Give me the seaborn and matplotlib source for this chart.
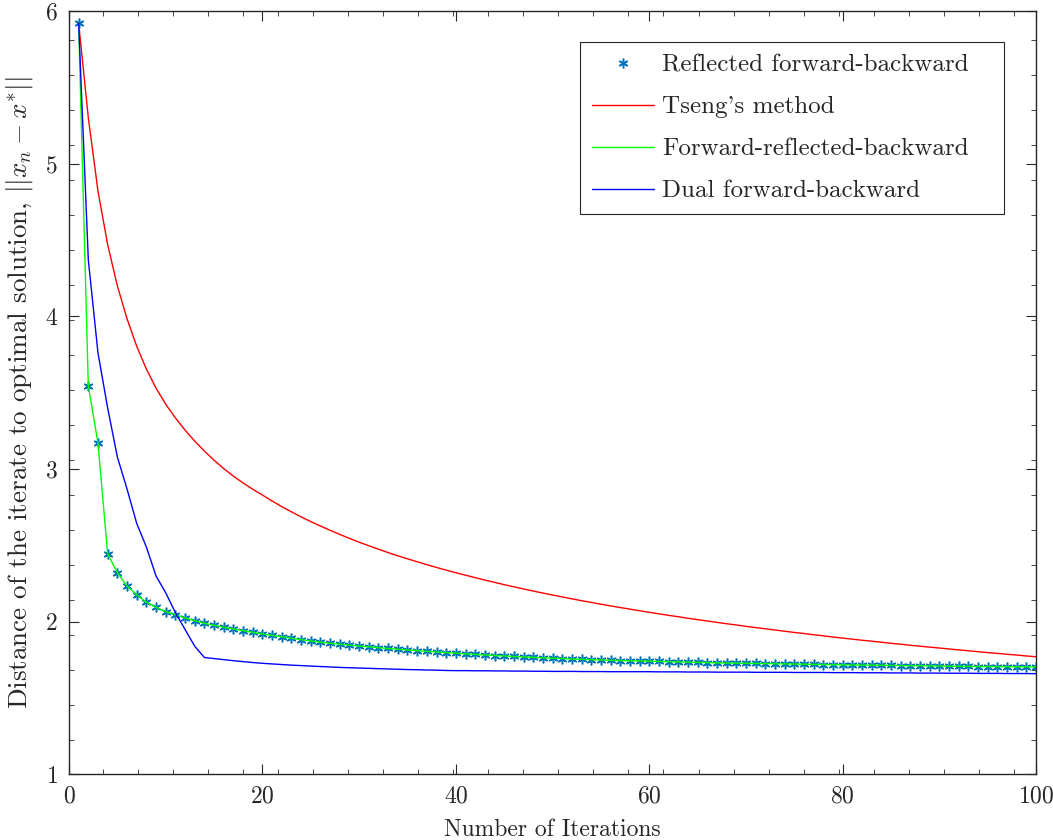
import numpy as np
import pandas as pd
import matplotlib
matplotlib.use("Agg")
import matplotlib.pyplot as plt
from matplotlib.ticker import MultipleLocator
import seaborn as sns

iterations = list(range(1, 101))

reflected_fb = [
    5.92, 3.546, 3.169, 2.444, 2.322, 2.234, 2.177, 2.128, 2.095, 2.066,
    2.047, 2.025, 2.007, 1.990, 1.977, 1.964, 1.953, 1.942, 1.931, 1.920,
    1.911, 1.902, 1.892, 1.883, 1.874, 1.866, 1.859, 1.853, 1.847, 1.841,
    1.836, 1.830, 1.825, 1.820, 1.815, 1.811, 1.806, 1.802, 1.798, 1.794,
    1.790, 1.786, 1.783, 1.779, 1.776, 1.773, 1.770, 1.767, 1.764, 1.761,
    1.759, 1.756, 1.754, 1.752, 1.750, 1.748, 1.746, 1.744, 1.743, 1.742,
    1.740, 1.739, 1.737, 1.736, 1.734, 1.733, 1.731, 1.730, 1.729, 1.728,
    1.727, 1.726, 1.725, 1.724, 1.723, 1.722, 1.721, 1.720, 1.719, 1.718,
    1.717, 1.716, 1.716, 1.715, 1.714, 1.713, 1.712, 1.712, 1.711, 1.710,
    1.709, 1.709, 1.708, 1.707, 1.707, 1.706, 1.706, 1.705, 1.705, 1.704,
]

forward_reflected_backward = list(reflected_fb)

tseng = [
    5.92, 5.30, 4.82, 4.47, 4.20, 3.985, 3.805, 3.655, 3.53, 3.425,
    3.335, 3.255, 3.183, 3.118, 3.058, 3.003, 2.954, 2.909, 2.868, 2.83,
    2.791, 2.754, 2.720, 2.687, 2.656, 2.627, 2.599, 2.572, 2.546, 2.521,
    2.498, 2.475, 2.453, 2.432, 2.412, 2.393, 2.374, 2.356, 2.338, 2.321,
    2.305, 2.289, 2.273, 2.258, 2.243, 2.229, 2.215, 2.201, 2.188, 2.175,
    2.163, 2.150, 2.138, 2.127, 2.115, 2.104, 2.093, 2.083, 2.072, 2.062,
    2.052, 2.042, 2.033, 2.023, 2.014, 2.005, 1.996, 1.987, 1.979, 1.970,
    1.962, 1.954, 1.946, 1.938, 1.930, 1.923, 1.915, 1.908, 1.900, 1.893,
    1.886, 1.879, 1.873, 1.866, 1.859, 1.853, 1.846, 1.840, 1.834, 1.828,
    1.822, 1.816, 1.810, 1.804, 1.798, 1.793, 1.787, 1.782, 1.776, 1.771,
]

dual_fb = [
    5.92, 4.37, 3.76, 3.40, 3.08, 2.87, 2.645, 2.49, 2.30, 2.19,
    2.06, 1.95, 1.84, 1.766, 1.759, 1.752, 1.745, 1.739, 1.733, 1.728,
    1.724, 1.720, 1.716, 1.713, 1.710, 1.707, 1.704, 1.701, 1.699, 1.697,
    1.695, 1.693, 1.691, 1.689, 1.687, 1.686, 1.684, 1.683, 1.681, 1.680,
    1.680, 1.679, 1.679, 1.678, 1.678, 1.677, 1.677, 1.676, 1.676, 1.675,
    1.675, 1.675, 1.674, 1.674, 1.674, 1.673, 1.673, 1.673, 1.673, 1.673,
    1.672, 1.672, 1.672, 1.671, 1.671, 1.671, 1.670, 1.670, 1.670, 1.670,
    1.669, 1.669, 1.669, 1.669, 1.668, 1.668, 1.668, 1.668, 1.667, 1.667,
    1.667, 1.666, 1.666, 1.666, 1.665, 1.665, 1.665, 1.664, 1.664, 1.664,
    1.663, 1.663, 1.663, 1.662, 1.662, 1.662, 1.661, 1.661, 1.661, 1.660,
]

labels = ["Reflected forward-backward", "Tseng's method",
          "Forward-reflected-backward", "Dual forward-backward"]
x_ticks = [0, 20, 40, 60, 80, 100]
y_ticks = [1, 2, 3, 4, 5, 6]

sns.set_style("ticks")
plt.rcParams["font.family"] = ["cmr10", "DejaVu Serif"]
plt.rcParams["mathtext.fontset"] = "cm"
plt.rcParams["axes.formatter.use_mathtext"] = True
plt.rcParams["axes.unicode_minus"] = False

fig = plt.figure(figsize=(10.53, 8.40), dpi=100)
ax = fig.add_axes([0.0655, 0.078, 0.9185, 0.909])

df = pd.DataFrame({"n": iterations, "rfb": reflected_fb, "tseng": tseng,
                   "frb": forward_reflected_backward, "dfb": dual_fb})

sns.lineplot(data=df, x="n", y="rfb", ax=ax, color="#0072BD", linestyle="",
             marker=(6, 2, 0), markersize=7, markeredgewidth=1.1,
             markeredgecolor="#0072BD", markerfacecolor="#0072BD",
             label=labels[0], zorder=2)
sns.lineplot(data=df, x="n", y="tseng", ax=ax, color="#FF0000", linewidth=1.0,
             label=labels[1], zorder=3)
sns.lineplot(data=df, x="n", y="frb", ax=ax, color="#00FF00", linewidth=1.0,
             label=labels[2], zorder=4)
sns.lineplot(data=df, x="n", y="dfb", ax=ax, color="#0000FF", linewidth=1.0,
             label=labels[3], zorder=5)

ax.set_xlim(0, 100)
ax.set_ylim(1, 6)
ax.set_xticks(x_ticks)
ax.set_yticks(y_ticks)
ax.xaxis.set_minor_locator(MultipleLocator(3.62, offset=3.55))
ax.yaxis.set_minor_locator(MultipleLocator(0.229, offset=1.687))
ax.tick_params(which="both", direction="in", top=True, right=True,
               color="#262626", labelsize=17, labelcolor="#262626")
ax.tick_params(which="major", length=7, width=0.8, pad=8)
ax.tick_params(which="minor", length=3.5, width=0.6)
for s in ax.spines.values():
    s.set_visible(True)
    s.set_color("#262626")
    s.set_linewidth(1.0)

ax.set_xlabel("Number of Iterations", fontsize=17, color="#262626", labelpad=8)
ax.set_ylabel(r"Distance of the iterate to optimal solution, $||x_n - x^{*}||$",
              fontsize=19.5, color="#262626", labelpad=7)

leg = ax.legend(loc="upper left", bbox_to_anchor=(0.5284, 0.5, 0.4386, 0.459),
                mode="expand", borderaxespad=0, fontsize=18, frameon=True,
                fancybox=False, framealpha=1, edgecolor="#262626",
                labelspacing=0.78, handlelength=2.5, handletextpad=0.3,
                borderpad=0.47, numpoints=1)
leg.get_frame().set_linewidth(0.8)

fig.savefig("out.png", dpi=100)
